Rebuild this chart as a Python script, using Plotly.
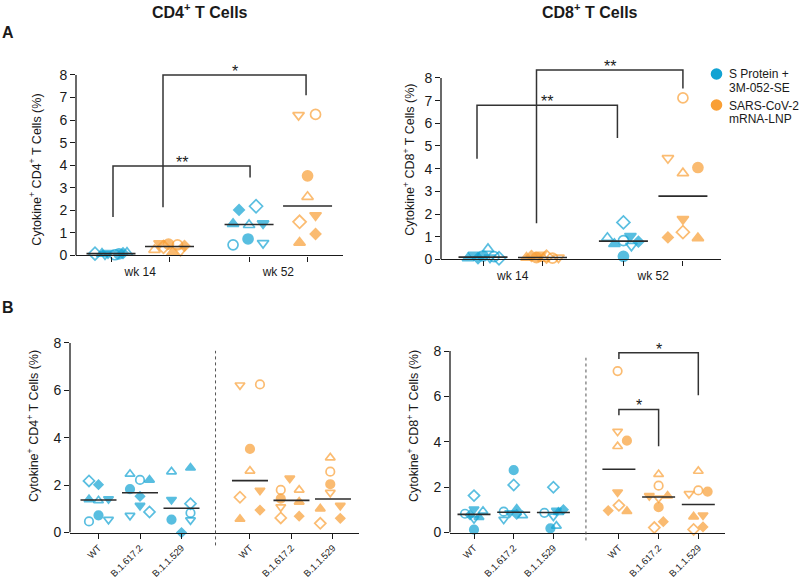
import numpy as np
import plotly.graph_objects as go

W, H = 800, 583
FONT = "Arial, 'Liberation Sans', Helvetica, sans-serif"
BLUE = "#12A3D3"
ORANGE = "#F99F36"
INK = "#1a1a1a"

# ---------------- data ----------------
group_names = ["S Protein +", "3M-052-SE", "SARS-CoV-2", "mRNA-LNP"]
week_labels = ["wk 14", "wk 52"]
variant_labels = ["WT", "B.1.617.2", "B.1.1.529"]
# one symbol per animal (8 animals per vaccine group)
animal_symbols = ["diamond-open", "diamond", "triangle-up", "triangle-up-open",
                  "triangle-down", "triangle-down-open", "circle-open", "circle"]

# Cytokine+ CD4+ T cells (%)
cd4_protein_wk14 = [0.08, 0.10, 0.08, 0.12, 0.10, 0.05, 0.03, 0.07]
cd4_mrna_wk14 = [0.38, 0.42, 0.13, 0.25, 0.54, 0.20, 0.47, 0.50]
cd4_protein_wt = [2.18, 2.02, 1.40, 1.35, 1.42, 0.55, 0.47, 0.73]   # wk 52, WT
cd4_mrna_wt = [1.49, 0.95, 0.57, 2.60, 1.78, 6.22, 6.25, 3.53]
cd4_protein_delta = [0.87, 1.53, 2.22, 2.47, 1.14, 0.72, 2.22, 1.83]
cd4_protein_omicron = [1.22, 0.00, 2.73, 2.57, 1.39, 0.53, 0.83, 0.55]
cd4_mrna_delta = [0.62, 0.69, 1.29, 1.80, 2.29, 1.08, 1.80, 1.43]
cd4_mrna_omicron = [0.39, 0.60, 1.01, 3.16, 1.14, 1.69, 2.57, 2.04]

# Cytokine+ CD8+ T cells (%)
cd8_protein_wk14 = [0.05, 0.05, 0.05, 0.46, 0.20, 0.08, 0.12, 0.15]
cd8_mrna_wk14 = [0.12, 0.15, 0.08, 0.03, 0.20, 0.08, 0.06, 0.08]
cd8_protein_wt = [1.63, 0.78, 0.68, 0.95, 1.03, 0.60, 0.83, 0.13]   # wk 52, WT
cd8_mrna_wt = [1.20, 0.97, 0.94, 3.80, 1.78, 4.46, 7.12, 4.05]
cd8_protein_delta = [2.10, 0.80, 1.04, 0.75, 0.87, 0.58, 0.92, 2.75]
cd8_protein_omicron = [2.00, 1.01, 0.90, 0.29, 0.97, 0.72, 0.87, 0.19]
cd8_mrna_delta = [0.22, 0.48, 1.62, 2.57, 1.62, 1.52, 2.07, 1.12]
cd8_mrna_omicron = [0.14, 0.25, 0.70, 2.71, 0.77, 1.71, 1.86, 1.81]

# significance labels
sig_A_cd4 = ["**", "*"]
sig_A_cd8 = ["**", "**"]
sig_B_cd8 = ["*", "*"]

# ---------------- layout helpers (style / positions) ----------------
posA = [0, 1, 2.36, 3.36]
posB = [0, 1, 2, 3.65, 4.65, 5.65]


def geom(x0, x1, tick0, ux, y0, y8, ymax):
    uy = (y0 - y8) / 8.0
    ytop = y0 - ymax * uy
    return dict(xdomain=[x0 / W, x1 / W],
                xrange=[(x0 - tick0) / ux, (x1 - tick0) / ux],
                ydomain=[(H - y0) / H, (H - ytop) / H],
                yrange=[0, ymax], ux=ux, uy=uy)


G = {
    "A4": geom(76, 343, 111, 58.5, 259, 76, 9.0),
    "A8": geom(441, 721, 483, 59.5, 263, 79, 9.0),
    "B4": geom(70, 359, 98.5, 41.5, 540, 347.7, 8.4),
    "B8": geom(450, 725, 474, 39.7, 540, 356, 8.8),
}
AX = {"A4": ("x", "y"), "A8": ("x2", "y2"), "B4": ("x3", "y3"), "B8": ("x4", "y4")}

# horizontal scatter offsets (pixels) per animal
jit = {
    "A4": [[-16, 12, -9, 16, -3, -6, 4, 8], [-6, 15, 3, -15, -10, 11, 8, -1],
           [7, -10, -16, 0, 14, 14, -16, -1], [-8, 8, -8, 0, 8, -9, 8, 0]],
    "A8": [[16, -5, -15, 5, -9, 7, 11, 0], [4, -11, -16, 1, -2, 16, 10, -6],
           [0, 15, -9, -16, 7, 8, 0, 0], [0, -15, 15, 0, 0, -15, 0, 15]],
    "B4": [[-9.5, 0, -9.5, 0, 10, 10, -9.5, 0], [9.5, 0, 9.5, -10, 0, -10, 0, -10],
           [9, 0, 9, -10, -10, 9, 9, -10],
           [-10, 10, -10, 0, 10, -10, 10, 0], [-10.7, 7.7, 7.7, 7.7, -1.7, -10.7, -10.7, -10.7],
           [-12.7, 7.3, -12.7, -2.7, 7.3, -2.7, -2.7, -2.7]],
    "B8": [[0, -4, 5, 9, 0, 0, -9, 0], [0, 3, 3, 9, -4, -10, -10, 0],
           [0, 10, 5, 3, 3, 0, -9, -3],
           [0, -10.7, 8, -1.3, -1.3, -1.3, -1.3, 8], [-4.3, 4.7, 9, 0, -9.3, 0, 0, 0],
           [-4.7, 4.7, -4.7, 0, 4.7, -9.3, 0, 9.3]],
}

panels = {
    "A4": ([cd4_protein_wk14, cd4_mrna_wk14, cd4_protein_wt, cd4_mrna_wt],
           [BLUE, ORANGE, BLUE, ORANGE], posA, 10, 24.5),
    "A8": ([cd8_protein_wk14, cd8_mrna_wk14, cd8_protein_wt, cd8_mrna_wt],
           [BLUE, ORANGE, BLUE, ORANGE], posA, 10, 24.5),
    "B4": ([cd4_protein_wt, cd4_protein_delta, cd4_protein_omicron,
            cd4_mrna_wt, cd4_mrna_delta, cd4_mrna_omicron],
           [BLUE] * 3 + [ORANGE] * 3, posB, 8.5, 18),
    "B8": ([cd8_protein_wt, cd8_protein_delta, cd8_protein_omicron,
            cd8_mrna_wt, cd8_mrna_delta, cd8_mrna_omicron],
           [BLUE] * 3 + [ORANGE] * 3, posB, 8.5, 16.5),
}

fig = go.Figure()

for key, (series, colors, pos, msize, halfw_px) in panels.items():
    g = G[key]
    xr, yr = AX[key]
    for k, (vals, col) in enumerate(zip(series, colors)):
        xs = [pos[k] + j / g["ux"] for j in jit[key][k]]
        sizes = [msize * 0.8 if s == "diamond" else msize for s in animal_symbols]
        fig.add_trace(go.Scatter(
            x=xs, y=vals, xaxis=xr, yaxis=yr, mode="markers", cliponaxis=False,
            marker=dict(symbol=animal_symbols, size=sizes, color=col,
                        line=dict(color=col, width=1.7)),
            showlegend=False, hoverinfo="skip"))
        med = float(np.median(vals))
        hw = halfw_px / g["ux"]
        fig.add_trace(go.Scatter(
            x=[pos[k] - hw, pos[k] + hw], y=[med, med], xaxis=xr, yaxis=yr,
            mode="lines", line=dict(color="#2b2b2b", width=1.6),
            showlegend=False, hoverinfo="skip"))

# significance brackets: (panel, i, j, top, left_end, right_end, label, dx_left_px, dx_right_px)
brackets = [
    ("A4", 0, 2, 3.96, 1.70, 3.45, sig_A_cd4[0], 2, 1),
    ("A4", 1, 3, 8.00, 2.14, 7.10, sig_A_cd4[1], -6.5, -1.5),
    ("A8", 0, 2, 6.80, 4.44, 5.35, sig_A_cd8[0], -6, -6),
    ("A8", 1, 3, 8.35, 1.59, 7.53, sig_A_cd8[1], -6, 0),
    ("B8", 3, 5, 7.93, 7.65, 6.06, sig_B_cd8[0], 0, 0),
    ("B8", 3, 4, 5.43, 5.17, 3.81, sig_B_cd8[1], 0, 0),
]
annotations = []
for key, i, j, top, yl, yrr, lab, dxl, dxr in brackets:
    g = G[key]
    pos = panels[key][2]
    xr, yr = AX[key]
    xl = pos[i] + dxl / g["ux"]
    xrt = pos[j] + dxr / g["ux"]
    fig.add_trace(go.Scatter(x=[xl, xl, xrt, xrt], y=[yl, top, top, yrr], xaxis=xr, yaxis=yr,
                             mode="lines", line=dict(color="#333333", width=1.5),
                             showlegend=False, hoverinfo="skip"))
    annotations.append(dict(x=(xl + xrt) / 2, y=top, xref=xr, yref=yr, text=lab,
                            showarrow=False, yanchor="bottom", yshift=-7,
                            font=dict(size=16, color=INK, family=FONT)))

# ---------------- axes ----------------
layout = dict(width=W, height=H, margin=dict(l=0, r=0, t=0, b=0),
              paper_bgcolor="white", plot_bgcolor="white",
              font=dict(family=FONT, color=INK), showlegend=False)

axis_common = dict(showgrid=False, zeroline=False, linecolor=INK, linewidth=1.3,
                   tickcolor=INK, tickwidth=1.3)

for n, key in enumerate(["A4", "A8", "B4", "B8"]):
    g = G[key]
    sfx = "" if n == 0 else str(n + 1)
    xa = dict(axis_common, domain=g["xdomain"], range=g["xrange"], anchor="y" + sfx,
              showline=True)
    if key.startswith("A"):
        xa.update(tickmode="array", tickvals=[(posA[0] + posA[1]) / 2, (posA[2] + posA[3]) / 2],
                  ticktext=week_labels, ticks="", ticklabelstandoff=5,
                  tickfont=dict(size=12, color=INK),
                  minor=dict(tickmode="array", tickvals=posA, ticks="outside", ticklen=5,
                             tickcolor=INK, tickwidth=1.3))
    else:
        xa.update(tickmode="array", tickvals=posB, ticktext=variant_labels * 2,
                  ticks="outside", ticklen=5, tickangle=-45,
                  tickfont=dict(size=9.5, color=INK))
    ya = dict(axis_common, domain=g["ydomain"], range=g["yrange"], anchor="x" + sfx,
              showline=False, ticks="outside", ticklen=5, tickmode="array",
              tickvals=list(range(0, 9)) if key.startswith("A") else [0, 2, 4, 6, 8],
              tickfont=dict(size=14, color=INK))
    layout["xaxis" + sfx] = xa
    layout["yaxis" + sfx] = ya

shapes = []
for key in G:
    xr, yr = AX[key]
    shapes.append(dict(type="line", xref=xr + " domain", yref=yr, x0=0, x1=0, y0=0, y1=8,
                       line=dict(color=INK, width=1.3)))
# dotted separators between vaccine groups in panel B
for key, xsep, ptop, pbot in [("B4", 2.82, 355.7, 553), ("B8", 2.82, 362.7, 548)]:
    xr, yr = AX[key]
    shapes.append(dict(type="line", xref=xr, yref="paper", x0=xsep, x1=xsep,
                       y0=(H - pbot) / H, y1=(H - ptop) / H,
                       line=dict(color="#555555", width=1, dash="dot")))


def pa(px, py):
    return px / W, (H - py) / H


# legend (marker + two-line label per vaccine group)
for col, cy in [(BLUE, 75), (ORANGE, 106.5)]:
    shapes.append(dict(type="circle", xref="paper", yref="paper",
                       x0=(716.5 - 5.8) / W, x1=(716.5 + 5.8) / W,
                       y0=(H - cy - 5.8) / H, y1=(H - cy + 5.8) / H,
                       fillcolor=col, line=dict(color=col, width=0)))
for txt, py in zip(group_names, [75, 89, 107, 121]):
    x, y = pa(727, py)
    annotations.append(dict(x=x, y=y, xref="paper", yref="paper", text=txt, showarrow=False,
                            xanchor="left", yanchor="middle", font=dict(size=12, color=INK)))

# titles and labels
for txt, px, py, size in [("<b>CD4<sup>+</sup> T Cells</b>", 200, 11, 16),
                          ("<b>CD8<sup>+</sup> T Cells</b>", 590, 11, 16),
                          ("<b>A</b>", 8, 33, 16), ("<b>B</b>", 8, 312, 16)]:
    x, y = pa(px, py)
    annotations.append(dict(x=x, y=y, xref="paper", yref="paper", text=txt, showarrow=False,
                            xanchor="center", yanchor="middle", font=dict(size=size, color=INK)))

for txt, px, py in [("Cytokine<sup>+</sup> CD4<sup>+</sup> T Cells (%)", 35, 172),
                    ("Cytokine<sup>+</sup> CD8<sup>+</sup> T Cells (%)", 409, 162),
                    ("Cytokine<sup>+</sup> CD4<sup>+</sup> T Cells (%)", 33, 432),
                    ("Cytokine<sup>+</sup> CD8<sup>+</sup> T Cells (%)", 413, 432)]:
    x, y = pa(px, py)
    annotations.append(dict(x=x, y=y, xref="paper", yref="paper", text=txt, showarrow=False,
                            textangle=-90, xanchor="center", yanchor="middle",
                            font=dict(size=12.5, color=INK)))

layout["shapes"] = shapes
layout["annotations"] = annotations

fig.update_layout(**layout)
fig.write_html("out.html", config={"displayModeBar": False},
               post_script="document.body.style.margin='0';"
                           "document.body.style.overflow='hidden';")
